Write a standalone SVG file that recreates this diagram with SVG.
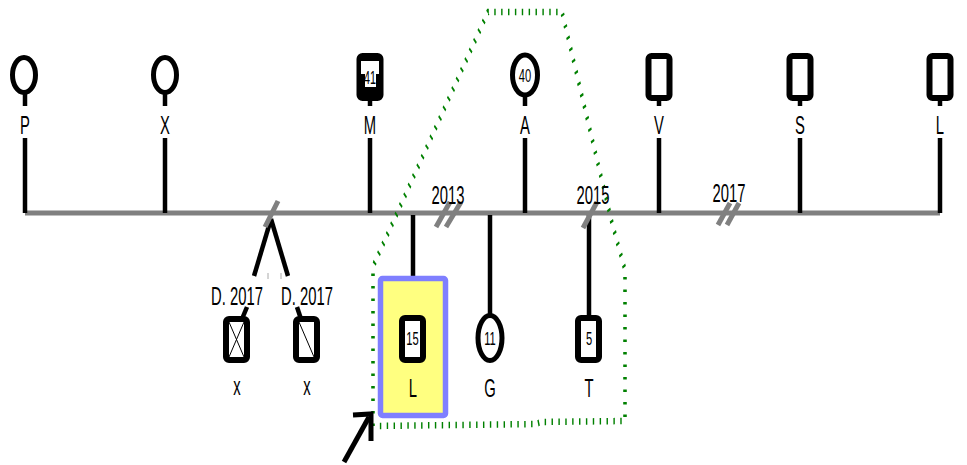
<svg xmlns="http://www.w3.org/2000/svg" width="967" height="465" viewBox="0 0 967 465">
<style>
.t{font-family:"Liberation Sans",Arial,sans-serif;font-size:26px;text-anchor:middle;fill:#000}
.n{font-family:"Liberation Sans",Arial,sans-serif;font-size:18px;text-anchor:middle;fill:#000}
.ln{stroke:#000;stroke-width:4.5;fill:none}
.tl{stroke:#808080;stroke-width:5;fill:none}
.brk{stroke:#808080;stroke-width:5;fill:none}
.ph{fill:#fff;stroke:#000;stroke-width:6}
.ci{fill:#fff;stroke:#000;stroke-width:5}
.thin{stroke:#000;stroke-width:1;fill:none}
</style>
<rect width="967" height="465" fill="#fff"/>
<g id="connectors">
  <line class="tl" x1="25" y1="213" x2="940" y2="213"/>
  <line class="ln" x1="25" y1="92" x2="25" y2="106"/><line class="ln" x1="25" y1="138" x2="25" y2="213"/>
  <line class="ln" x1="165" y1="92" x2="165" y2="106"/><line class="ln" x1="165" y1="138" x2="165" y2="213"/>
  <line class="ln" x1="370" y1="98" x2="370" y2="106"/><line class="ln" x1="370" y1="138" x2="370" y2="213"/>
  <line class="ln" x1="525" y1="95" x2="525" y2="106"/><line class="ln" x1="525" y1="138" x2="525" y2="213"/>
  <line class="ln" x1="659" y1="98" x2="659" y2="106"/><line class="ln" x1="659" y1="138" x2="659" y2="213"/>
  <line class="ln" x1="800" y1="98" x2="800" y2="106"/><line class="ln" x1="800" y1="138" x2="800" y2="213"/>
  <line class="ln" x1="940" y1="98" x2="940" y2="106"/><line class="ln" x1="940" y1="138" x2="940" y2="213"/>
  <line class="ln" x1="413" y1="215" x2="413" y2="277"/>
  <line class="ln" x1="490" y1="215" x2="490" y2="316"/>
  <line class="ln" x1="589" y1="215" x2="589" y2="318"/>
  <line class="ln" x1="271" y1="219" x2="254" y2="276" stroke-width="5"/>
  <line class="ln" x1="271" y1="219" x2="288" y2="276" stroke-width="5"/>
  <line x1="268" y1="273" x2="268" y2="279" stroke="#aaa" stroke-width="1"/>
  <line x1="281" y1="273" x2="281" y2="279" stroke="#aaa" stroke-width="1"/>
  <line class="ln" x1="247" y1="307" x2="242" y2="319" stroke-width="5"/>
  <line class="ln" x1="297" y1="307" x2="301" y2="319" stroke-width="5"/>
  <line class="brk" x1="265" y1="227" x2="278" y2="201"/>
  <line class="brk" x1="436" y1="227" x2="450" y2="202"/>
  <line class="brk" x1="446" y1="227" x2="461" y2="202"/>
  <line class="brk" x1="583" y1="228" x2="597" y2="202"/>
  <line class="brk" x1="718" y1="225" x2="730" y2="203"/>
  <line class="brk" x1="727" y1="225" x2="739" y2="203"/>
  <path transform="scale(0.55 1)" d="M678.18,426 L678.18,268 L681.82,262 L887.27,12 L1021.82,12 L1112.73,223 L1136.36,270 L1136.36,421 L981.82,422 L976.36,424 L681.82,426" fill="none" stroke="#008000" stroke-width="6.5" stroke-dasharray="2.6 9.9"/>
  <line x1="344" y1="462" x2="369" y2="417" stroke="#000" stroke-width="5"/>
  <polyline points="353,415 371,414 371,441" fill="none" stroke="#000" stroke-width="5"/>
</g>
<g id="labels-years">
  <text class="t" transform="translate(448 204) scale(0.57 1)">2013</text>
  <text class="t" transform="translate(593 204) scale(0.57 1)">2015</text>
  <text class="t" transform="translate(729 202) scale(0.57 1)">2017</text>
</g>
<g id="node-P"><ellipse class="ci" cx="24" cy="75" rx="11.5" ry="17.5"/><text class="t" transform="translate(25 134) scale(0.57 1)">P</text></g>
<g id="node-X"><ellipse class="ci" cx="165" cy="75" rx="11.5" ry="17.5"/><text class="t" transform="translate(165 134) scale(0.57 1)">X</text></g>
<g id="node-M"><rect x="359.5" y="56" width="21" height="42" rx="3" fill="#000" stroke="#000" stroke-width="6"/><polygon points="361,61 379,61 379,74 376,74 376,87 365,87 365,74 361,74" fill="#fff"/><text class="n" transform="translate(370 84) scale(0.6 1)">41</text><text class="t" transform="translate(370 134) scale(0.57 1)">M</text></g>
<g id="node-A"><ellipse class="ci" cx="525" cy="75" rx="12.5" ry="20"/><text class="n" transform="translate(525 82) scale(0.62 1)">40</text><text class="t" transform="translate(525 134) scale(0.57 1)">A</text></g>
<g id="node-V"><rect class="ph" x="648.5" y="56" width="21" height="42" rx="3"/><text class="t" transform="translate(659 134) scale(0.57 1)">V</text></g>
<g id="node-S"><rect class="ph" x="789.5" y="56" width="21" height="42" rx="3"/><text class="t" transform="translate(800 134) scale(0.57 1)">S</text></g>
<g id="node-L"><rect class="ph" x="929.5" y="56" width="21" height="42" rx="3"/><text class="t" transform="translate(940 134) scale(0.57 1)">L</text></g>
<g id="node-x1"><text class="t" transform="translate(237 305) scale(0.57 1)">D. 2017</text><rect class="ph" x="226" y="319" width="21" height="41" rx="3"/><line class="thin" x1="229" y1="322" x2="244" y2="357"/><line class="thin" x1="244" y1="322" x2="229" y2="357"/><text class="t" transform="translate(237 395) scale(0.57 1)">x</text></g>
<g id="node-x2"><text class="t" transform="translate(307 305) scale(0.57 1)">D. 2017</text><rect class="ph" x="296" y="319" width="21" height="41" rx="3"/><line class="thin" x1="299" y1="322" x2="314" y2="357"/><text class="t" transform="translate(307 395) scale(0.57 1)">x</text></g>
<g id="node-Lchild"><rect x="380.5" y="278.5" width="65" height="137" rx="2" fill="#ffff80" stroke="#7f7fff" stroke-width="5.5"/><rect class="ph" x="402" y="318" width="21" height="42" rx="3"/><text class="n" transform="translate(412.5 345) scale(0.62 1)">15</text><text class="t" transform="translate(413 397) scale(0.57 1)">L</text></g>
<g id="node-G"><ellipse class="ci" cx="490" cy="338" rx="12" ry="22.5"/><text class="n" transform="translate(490 345) scale(0.62 1)">11</text><text class="t" transform="translate(490 397) scale(0.57 1)">G</text></g>
<g id="node-T"><rect class="ph" x="578" y="318" width="21" height="42" rx="3"/><text class="n" transform="translate(589 345) scale(0.62 1)">5</text><text class="t" transform="translate(589 397) scale(0.57 1)">T</text></g>
</svg>
